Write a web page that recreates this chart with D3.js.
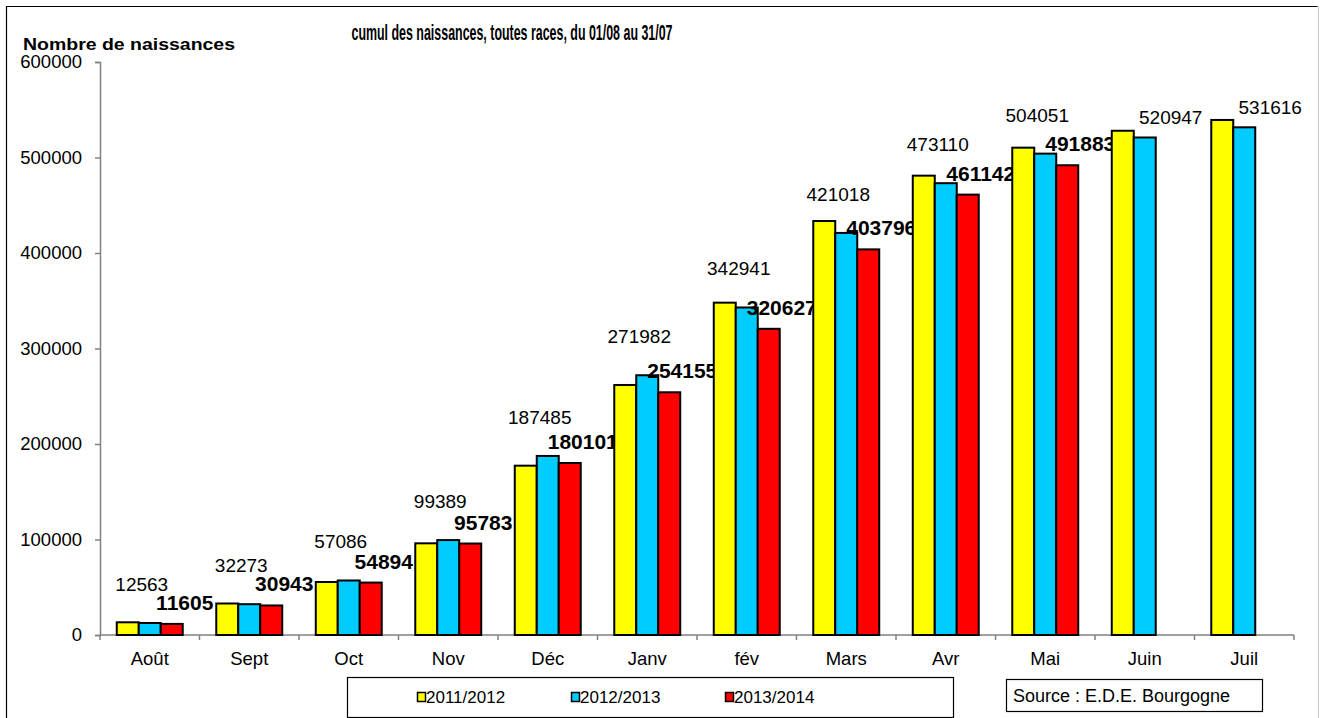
<!DOCTYPE html>
<html>
<head>
<meta charset="utf-8">
<script src="https://cdn.jsdelivr.net/npm/d3@7"></script>
<style>
  body { margin: 0; background: #fff; }
  text { font-family: "Liberation Sans", Arial, sans-serif; fill: #000; }
</style>
</head>
<body>
<div id="chart"></div>
<script>
// months of the campaign, 01/08 -> 31/07
var months = ['Août', 'Sept', 'Oct', 'Nov', 'Déc', 'Janv', 'fév', 'Mars', 'Avr', 'Mai', 'Juin', 'Juil']
var seriesNames = ['2011/2012', '2012/2013', '2013/2014']
// 2011/2012 has no labels on the picture: values
var births2011 = [13300, 33000, 55500, 96000, 177300, 261800, 348000, 433500, 481000, 510300, 528000, 539300]
var births2012 = [12563, 32273, 57086, 99389, 187485, 271982, 342941, 421018, 473110, 504051, 520947, 531616]
var births2013 = [11605, 30943, 54894, 95783, 180101, 254155, 320627, 403796, 461142, 491883, null, null]
var yTicks = [0, 100000, 200000, 300000, 400000, 500000, 600000]
var colors = ['#FFFF00', '#00CCFF', '#FF0000']

var W = 1322, H = 718
var svg = d3.select('#chart').append('svg')
    .attr('width', W)
    .attr('height', H)

// outer frame
svg.append('path')
    .attr('d', 'M6.5,' + H + 'V6.5H1317.5')
    .attr('fill', 'none').attr('stroke', '#000').attr('stroke-width', 1.2)
svg.append('line')
    .attr('x1', 1318.5).attr('x2', 1318.5).attr('y1', 6).attr('y2', H)
    .attr('stroke', '#c8c8c8')

var x0 = d3.scaleBand()
    .domain(months)
    .range([100, 1294])
    .paddingInner(0.337)
    .paddingOuter(0.1685)
var x1 = d3.scaleBand()
    .domain(seriesNames)
    .range([0, x0.bandwidth()])
var y = d3.scaleLinear().domain([0, 600000]).range([635, 62])

// titles
svg.append('text')
    .attr('x', 512).attr('y', 40)
    .attr('text-anchor', 'middle')
    .attr('font-weight', 'bold').attr('font-size', '22px')
    .attr('textLength', 321).attr('lengthAdjust', 'spacingAndGlyphs')
    .style('font-family', '"Liberation Sans Narrow", "Liberation Sans", Arial, sans-serif')
    .text('cumul des naissances, toutes races, du 01/08 au 31/07')
svg.append('text')
    .attr('x', 23).attr('y', 50)
    .attr('font-weight', 'bold').attr('font-size', '17px')
    .attr('textLength', 212).attr('lengthAdjust', 'spacingAndGlyphs')
    .text('Nombre de naissances')

// y axis
var yAxis = svg.append('g')
    .attr('transform', 'translate(100,0)')
    .call(d3.axisLeft(y).tickValues(yTicks).tickFormat(d3.format('d')).tickSize(5).tickPadding(13))
yAxis.select('.domain').attr('stroke', '#808080').attr('stroke-width', 1.5)
yAxis.selectAll('.tick line').attr('stroke', '#808080').attr('stroke-width', 1.5)
yAxis.selectAll('.tick text').attr('font-size', '18.5px').attr('fill', '#000')
    .style('font-family', '"Liberation Sans", Arial, sans-serif')

// x axis: baseline, ticks between categories, month labels
var xAxis = svg.append('g')
xAxis.append('line')
    .attr('x1', 100).attr('x2', 1294)
    .attr('y1', y(0)).attr('y2', y(0))
    .attr('stroke', '#808080').attr('stroke-width', 1.5)
var bounds = months.map(function (m) { return x0(m) - x0.step() * x0.paddingOuter() })
bounds.push(1294)
xAxis.selectAll('.xtick')
    .data(bounds)
    .enter().append('line')
    .attr('x1', function (d) { return d }).attr('x2', function (d) { return d })
    .attr('y1', y(0)).attr('y2', y(0) + 5)
    .attr('stroke', '#808080').attr('stroke-width', 1.5)
xAxis.selectAll('.xlab')
    .data(months)
    .enter().append('text')
    .attr('x', function (d) { return x0(d) + x0.bandwidth() / 2 })
    .attr('y', 665)
    .attr('text-anchor', 'middle')
    .attr('font-size', '18.5px')
    .text(function (d) { return d })

// bars
var rows = months.map(function (m, i) {
    return {
        month: m,
        values: [births2011[i], births2012[i], births2013[i]]
    }
})

var group = svg.selectAll('.grp')
    .data(rows)
    .enter().append('g')
    .attr('transform', function (d) { return 'translate(' + x0(d.month) + ',0)' })

group.selectAll('rect')
    .data(function (d) {
        return d.values.map(function (v, j) { return { key: seriesNames[j], value: v, idx: j } })
            .filter(function (e) { return e.value != null })
    })
    .enter().append('rect')
    .attr('x', function (d) { return x1(d.key) })
    .attr('y', function (d) { return y(d.value) })
    .attr('width', x1.bandwidth())
    .attr('height', function (d) { return y(0) - y(d.value) })
    .attr('fill', function (d) { return colors[d.idx] })
    .attr('stroke', '#000')
    .attr('stroke-width', 2)

// labels: 2012/2013 plain, 2013/2014 bold
group.append('text')
    .attr('x', function (d) {
        var c = x0.bandwidth() / 2
        return d.values[2] == null ? c + 26 : c - 8
    })
    .attr('y', function (d) {
        return y(d.values[1]) - (d.values[2] == null ? 13 : 32)
    })
    .attr('text-anchor', 'middle')
    .attr('font-size', '19px')
    .text(function (d) { return d.values[1] })

group.filter(function (d) { return d.values[2] != null })
    .append('text')
    .attr('x', x0.bandwidth() / 2 + 35)
    .attr('y', function (d) { return y(d.values[2]) - 14 })
    .attr('text-anchor', 'middle')
    .attr('font-size', '21px')
    .attr('font-weight', 'bold')
    .text(function (d) { return d.values[2] })

// legend
svg.append('rect')
    .attr('x', 347.5).attr('y', 677.5).attr('width', 606).attr('height', 40)
    .attr('fill', '#fff').attr('stroke', '#000').attr('stroke-width', 1.2)
var legend = svg.selectAll('.leg')
    .data(seriesNames)
    .enter().append('g')
    .attr('transform', function (d, i) { return 'translate(' + (417 + i * 154) + ',692)' })
legend.append('rect')
    .attr('x', 0.5).attr('y', 0.5).attr('width', 8).attr('height', 9)
    .attr('fill', function (d, i) { return colors[i] })
    .attr('stroke', '#000').attr('stroke-width', 1.5)
legend.append('text')
    .attr('x', 9).attr('y', 11)
    .attr('font-size', '17px')
    .text(function (d) { return d })

// source box
svg.append('rect')
    .attr('x', 1006.5).attr('y', 679.5).attr('width', 256).attr('height', 32)
    .attr('fill', '#fff').attr('stroke', '#000').attr('stroke-width', 1.2)
svg.append('text')
    .attr('x', 1013).attr('y', 702)
    .attr('font-size', '18px')
    .text('Source : E.D.E. Bourgogne')
</script>
</body>
</html>
